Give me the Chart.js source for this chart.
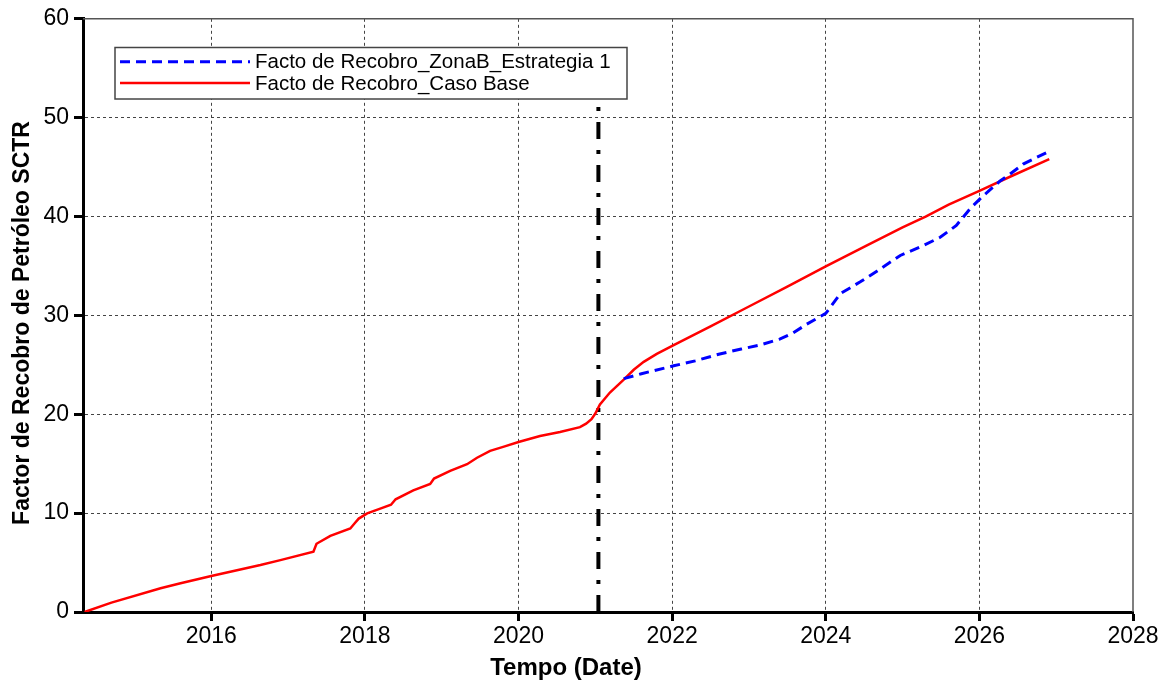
<!DOCTYPE html>
<html>
<head>
<meta charset="utf-8">
<script src="https://cdn.jsdelivr.net/npm/chart.js@4.4.0/dist/chart.umd.min.js"></script>
<style>
  html, body { margin: 0; padding: 0; background: #fff; }
</style>
</head>
<body>
<canvas id="myChart" width="1173" height="680"></canvas>
<script>
// Caso Base (red, solid)
const baseYears = [2014.35, 2014.7, 2015.34, 2015.6, 2016.0, 2016.64, 2016.9, 2017.33, 2017.37, 2017.55,
  2017.81, 2017.87, 2017.92, 2018.03, 2018.2, 2018.34, 2018.4, 2018.63, 2018.85, 2018.9,
  2019.11, 2019.33, 2019.46, 2019.63, 2019.8, 2020.0, 2020.28, 2020.54, 2020.8, 2020.88,
  2020.95, 2021.0, 2021.06, 2021.19, 2021.37, 2021.5, 2021.63, 2021.8, 2022.02, 2022.5,
  2023.0, 2023.5, 2024.0, 2024.53, 2025.0, 2025.3, 2025.6, 2026.0, 2026.42, 2026.91]
const baseValues = [0, 0.95, 2.4, 2.9, 3.64, 4.75, 5.25, 6.1, 6.9, 7.7,
  8.45, 9.0, 9.45, 9.97, 10.45, 10.85, 11.4, 12.3, 12.95, 13.5,
  14.27, 14.95, 15.6, 16.3, 16.7, 17.2, 17.8, 18.2, 18.7, 19.05,
  19.5, 20.07, 21.0, 22.2, 23.5, 24.5, 25.3, 26.1, 27.0, 28.9,
  30.9, 32.9, 34.95, 37.05, 38.9, 40.0, 41.2, 42.6, 44.1, 45.8]

// ZonaB Estrategia 1 (blue, dashed) - only where it leaves the base case
const stratYears = [2021.37, 2021.6, 2022.02, 2022.3, 2022.62, 2022.9, 2023.14, 2023.4, 2023.57, 2023.75,
  2024.0, 2024.19, 2024.45, 2024.67, 2024.97, 2025.27, 2025.49, 2025.7, 2025.88, 2026.03,
  2026.27, 2026.4, 2026.57, 2026.75, 2026.91]
const stratValues = [23.6, 24.1, 24.9, 25.4, 26.1, 26.6, 27.0, 27.6, 28.2, 29.1,
  30.2, 32.2, 33.4, 34.5, 36.06, 37.07, 37.9, 39.1, 40.8, 41.95,
  43.6, 44.3, 45.3, 46.0, 46.6]

const cutoffYear = 2021.04
const cutoffRange = [0, 52]
const xTicks = [2016, 2018, 2020, 2022, 2024, 2026, 2028]
const yTicks = [0, 10, 20, 30, 40, 50, 60]
const labels = ["Facto de Recobro_ZonaB_Estrategia 1", "Facto de Recobro_Caso Base"]
const xTitle = "Tempo (Date)"
const yTitle = "Factor de Recobro de Petróleo SCTR"

const toPoints = (xs, ys) => xs.map((x, i) => ({ x: x, y: ys[i] }))

Chart.defaults.font.family = '"Liberation Sans", Arial, sans-serif'
Chart.defaults.color = '#000'

const gridColor = (edges) => (c) => (c.tick && edges.includes(c.tick.value)) ? 'rgba(0,0,0,0)' : '#444'

const framePlugin = {
  id: 'frame',
  beforeDatasetsDraw(chart) {
    const ctx = chart.ctx
    const a = chart.chartArea
    ctx.save()
    ctx.strokeStyle = '#555'
    ctx.lineWidth = 1.5
    ctx.beginPath()
    ctx.moveTo(a.left, a.top)
    ctx.lineTo(a.right, a.top)
    ctx.lineTo(a.right, a.bottom)
    ctx.stroke()
    ctx.restore()
  },
  afterDraw(chart) {
    const ctx = chart.ctx
    ctx.save()
    // legend box
    ctx.fillStyle = '#fff'
    ctx.fillRect(115, 47.5, 512, 51.5)
    ctx.strokeStyle = '#444'
    ctx.lineWidth = 1.5
    ctx.strokeRect(115, 47.5, 512, 51.5)
    const rows = [61.7, 83]
    ctx.font = '20.5px "Liberation Sans", Arial, sans-serif'
    ctx.textBaseline = 'middle'
    ctx.textAlign = 'left'
    for (let i = 0; i < 2; i++) {
      const ds = chart.data.datasets[i]
      ctx.strokeStyle = ds.borderColor
      ctx.lineWidth = ds.borderWidth
      ctx.setLineDash(ds.borderDash || [])
      ctx.beginPath()
      ctx.moveTo(120, rows[i])
      ctx.lineTo(250, rows[i])
      ctx.stroke()
      ctx.setLineDash([])
      ctx.fillStyle = '#000'
      ctx.fillText(labels[i], 255, rows[i] + 1)
    }
    // axis titles
    ctx.font = 'bold 24px "Liberation Sans", Arial, sans-serif'
    ctx.textAlign = 'center'
    ctx.fillText(xTitle, 566, 668)
    ctx.font = 'bold 23px "Liberation Sans", Arial, sans-serif'
    ctx.translate(23, 323)
    ctx.rotate(-Math.PI / 2)
    ctx.fillText(yTitle, 0, 0)
    ctx.restore()
  }
}

new Chart(document.getElementById('myChart'), {
  type: 'line',
  data: {
    datasets: [
      {
        label: labels[0],
        data: toPoints(stratYears, stratValues),
        borderColor: '#0000ff',
        borderWidth: 3,
        borderDash: [10, 6],
        pointRadius: 0,
        fill: false
      },
      {
        label: labels[1],
        data: toPoints(baseYears, baseValues),
        borderColor: '#ff0000',
        borderWidth: 2.5,
        pointRadius: 0,
        fill: false
      },
      {
        label: 'corte',
        data: cutoffRange.map(v => ({ x: cutoffYear, y: v })),
        borderColor: '#000',
        borderWidth: 4,
        borderDash: [17, 11, 4, 11],
        pointRadius: 0,
        fill: false
      }
    ]
  },
  options: {
    responsive: false,
    animation: false,
    layout: { padding: { top: 17, right: 40, left: 0, bottom: 0 } },
    plugins: {
      legend: { display: false },
      tooltip: { enabled: false }
    },
    scales: {
      x: {
        type: 'linear',
        min: 2014.33,
        max: 2028,
        afterBuildTicks: (scale) => { scale.ticks = xTicks.map(v => ({ value: v })) },
        afterFit: (scale) => { scale.height = 68 },
        ticks: {
          font: { size: 23 },
          padding: 2,
          maxRotation: 0,
          callback: (v) => String(v)
        },
        grid: {
          color: gridColor([2028]),
          lineWidth: 1,
          tickLength: 9,
          tickColor: '#000',
          tickWidth: 3,
          tickBorderDash: []
        },
        border: { color: '#000', width: 3, dash: [3, 3] }
      },
      y: {
        min: 0,
        max: 60,
        afterBuildTicks: (scale) => { scale.ticks = yTicks.map(v => ({ value: v })) },
        afterFit: (scale) => { scale.width = 83 },
        ticks: {
          font: { size: 23 },
          padding: 5
        },
        grid: {
          color: gridColor([0, 60]),
          lineWidth: 1,
          tickLength: 9,
          tickColor: '#000',
          tickWidth: 3,
          tickBorderDash: []
        },
        border: { color: '#000', width: 3, dash: [3, 3] }
      }
    }
  },
  plugins: [framePlugin]
})
</script>
</body>
</html>
